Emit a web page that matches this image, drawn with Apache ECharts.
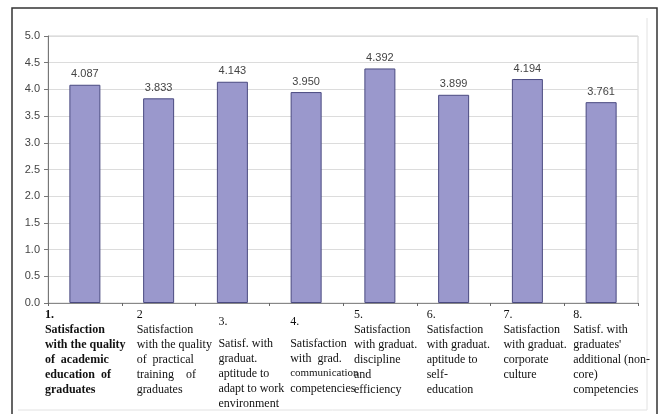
<!DOCTYPE html>
<html>
<head>
<meta charset="utf-8">
<script src="https://cdn.jsdelivr.net/npm/echarts@6/dist/echarts.min.js"></script>
<style>html,body{margin:0;padding:0;background:#fff}#c{width:660px;height:414px}</style>
</head>
<body>
<div id="c"></div>
<script>
var categories = [
  "1.\nSatisfaction\nwith the quality\nof  academic\neducation  of\ngraduates",
  "2\nSatisfaction\nwith the quality\nof  practical\ntraining    of\ngraduates",
  "3.\nSatisf. with\ngraduat.\naptitude to\nadapt to work\nenvironment",
  "4.\nSatisfaction\nwith  grad.\ncommunication\ncompetencies",
  "5.\nSatisfaction\nwith graduat.\ndiscipline\nand\nefficiency",
  "6.\nSatisfaction\nwith graduat.\naptitude to\nself-\neducation",
  "7.\nSatisfaction\nwith graduat.\ncorporate\nculture",
  "8.\nSatisf. with\ngraduates'\nadditional (non-\ncore)\ncompetencies"
];
var values = [4.087, 3.833, 4.143, 3.950, 4.392, 3.899, 4.194, 3.761];
var yTicks = ["0.0","0.5","1.0","1.5","2.0","2.5","3.0","3.5","4.0","4.5","5.0"];

// label layout (offsets relative to category centre)
var labelShift = [40, 22, 14, 16, 26, 27, 24, 28];
var labelDrop = [0, 0, 7, 7, 0, 0, 0, 0];

var rich = {};
labelShift.forEach(function (d, i) {
  var base = {
    width: 2 * d, align: 'left', fontFamily: 'Liberation Serif', fontSize: 12,
    lineHeight: 15, color: '#111', fontWeight: i === 0 ? 'bold' : 'normal'
  };
  rich['r' + i] = base;
  rich['f' + i] = Object.assign({}, base, {lineHeight: 15 + 2 * labelDrop[i]});
  rich['n' + i] = Object.assign({}, base, {fontSize: 11});
});

var chart = echarts.init(document.getElementById('c'), null, {renderer: 'canvas'});
chart.setOption({
  animation: false,
  backgroundColor: '#fff',
  graphic: [
    {type: 'rect', shape: {x: 12, y: 8, width: 645, height: 420}, style: {fill: 'none', stroke: '#333', lineWidth: 1.5}, silent: true},
    {type: 'polyline', shape: {points: [[647, 18], [647, 410], [18, 410]]}, style: {fill: 'none', stroke: '#e2e2e2', lineWidth: 1}, silent: true}
  ],
  grid: {left: 48, top: 36, right: 22, bottom: 111, show: true, borderColor: '#d0d0d0', borderWidth: 1},
  xAxis: {
    type: 'category',
    data: categories,
    axisLine: {lineStyle: {color: '#888', width: 1}},
    axisTick: {show: true, length: 3, lineStyle: {color: '#666'}},
    axisLabel: {
      interval: 0, margin: 4, align: 'center', verticalAlign: 'top',
      formatter: function (v, i) {
        var lines = v.split('\n');
        return lines.map(function (l, k) {
          var s = k === 0 ? 'f' : ((i === 3 && l.length > 12) ? 'n' : 'r');
          return '{' + s + i + '|' + l + '}';
        }).join('\n');
      },
      rich: rich
    }
  },
  yAxis: {
    type: 'value', min: 0, max: 5, interval: 0.5,
    axisLine: {show: true, lineStyle: {color: '#777', width: 1}},
    axisTick: {show: true, length: 4, lineStyle: {color: '#777'}},
    splitLine: {lineStyle: {color: '#dcdcdc', width: 1}},
    axisLabel: {
      margin: 8, fontFamily: 'Liberation Sans', fontSize: 11, color: '#444',
      formatter: function (v) { return yTicks[Math.round(v * 2)]; }
    }
  },
  series: [{
    type: 'bar',
    data: values,
    barWidth: 31,
    itemStyle: {color: '#9a98cc', borderColor: '#4a4a80', borderWidth: 1},
    label: {
      show: true, position: 'top', distance: 5,
      fontFamily: 'Liberation Sans', fontSize: 11, color: '#444',
      formatter: function (p) { return p.value.toFixed(3); }
    }
  }]
});
</script>
</body>
</html>
